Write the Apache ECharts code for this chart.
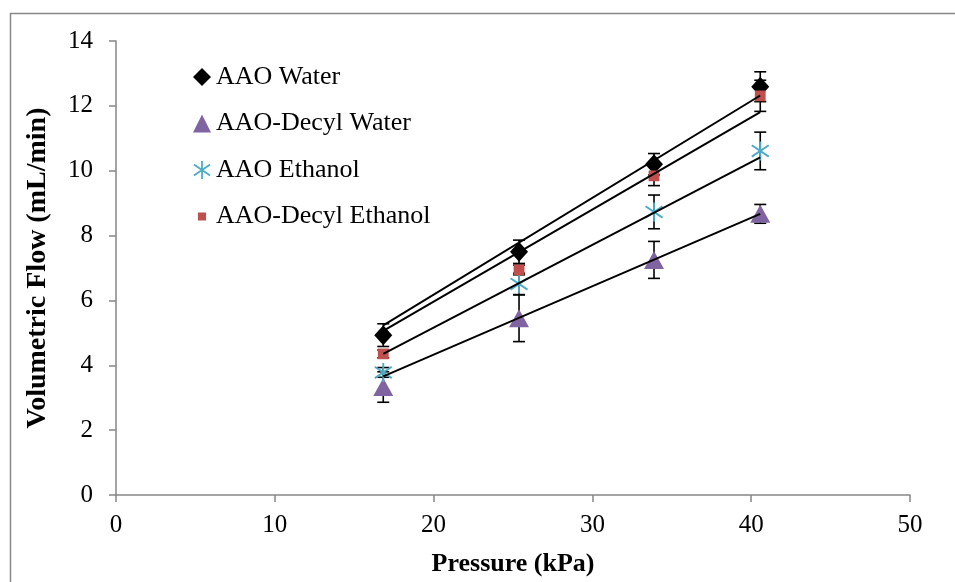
<!DOCTYPE html>
<html>
<head>
    <meta charset="utf-8">
    <title>Volumetric Flow vs Pressure</title>
    <script src="https://cdn.jsdelivr.net/npm/echarts@6/dist/echarts.min.js"></script>
    <style>
        html, body { margin: 0; padding: 0; background: #fff; }
        #main { width: 955px; height: 582px; }
    </style>
</head>
<body>
<div id="main"></div>
<script>
    // data
    var pressure = [16.83, 25.38, 33.88, 40.57];
    var aaoWater = [4.93, 7.50, 10.20, 12.59];
    var decylWater = [3.33, 5.45, 7.25, 8.67];
    var aaoEthanol = [3.78, 6.51, 8.73, 10.61];
    var decylEthanol = [4.35, 6.94, 9.84, 12.31];

    var aaoWaterErr = [0.35, 0.36, 0.33, 0.46];
    var decylWaterErr = [0.47, 0.72, 0.57, 0.29];
    var aaoEthanolErr = [0.15, 0.33, 0.52, 0.58];
    var decylEthanolErr = [0.12, 0.15, 0.30, 0.48];

    // trend line end points (as drawn)
    var trendX = [16.83, 40.57];
    var trendA = [5.23, 12.32];
    var trendB = [5.06, 11.81];
    var trendC = [4.35, 10.41];
    var trendD = [3.66, 8.67];

    var xTicks = [0, 10, 20, 30, 40, 50];
    var yTicks = [0, 2, 4, 6, 8, 10, 12, 14];

    var names = ['AAO Water', 'AAO-Decyl Water', 'AAO Ethanol', 'AAO-Decyl Ethanol'];
    var colors = ['#000000', '#8064A2', '#4BACC6', '#C0504D'];

    var asterisk = 'path://M9,0L11,0L11,20L9,20ZM1.555,3.168L19.555,15.168L18.445,16.832L0.445,4.832Z' +
        'M0.445,15.168L18.445,3.168L19.555,4.832L1.555,16.832Z';
    // small square padded inside a 20x20 box
    var smallSquare = 'path://M0,0L0.01,0L0,0.01ZM20,20L19.99,20L20,19.99ZM5.5,5.5L14.5,5.5L14.5,14.5L5.5,14.5Z';

    var serif = 'Liberation Serif';

    function pairs(xs, ys) {
        var out = [];
        for (var i = 0; i < xs.length; i++) out.push([xs[i], ys[i]]);
        return out;
    }
    function triples(xs, ys, es) {
        var out = [];
        for (var i = 0; i < xs.length; i++) out.push([xs[i], ys[i], es[i]]);
        return out;
    }

    function errorBar(params, api) {
        var x = api.value(0), y = api.value(1), e = api.value(2);
        var top = api.coord([x, y + e]);
        var bot = api.coord([x, y - e]);
        var half = 6;
        var st = { stroke: '#000', lineWidth: 1.6 };
        return {
            type: 'group',
            children: [
                { type: 'line', shape: { x1: top[0], y1: top[1], x2: bot[0], y2: bot[1] }, style: st },
                { type: 'line', shape: { x1: top[0] - half, y1: top[1], x2: top[0] + half, y2: top[1] }, style: st },
                { type: 'line', shape: { x1: bot[0] - half, y1: bot[1], x2: bot[0] + half, y2: bot[1] }, style: st }
            ]
        };
    }

    var chart = echarts.init(document.getElementById('main'));

    var series = [];
    var errSets = [
        triples(pressure, aaoWater, aaoWaterErr),
        triples(pressure, decylWater, decylWaterErr),
        triples(pressure, aaoEthanol, aaoEthanolErr),
        triples(pressure, decylEthanol, decylEthanolErr)
    ];
    errSets.forEach(function (d, i) {
        series.push({
            name: 'err' + i,
            type: 'custom',
            renderItem: errorBar,
            data: d,
            z: 1,
            silent: true
        });
    });

    series.push({
        name: names[0], type: 'scatter', symbol: 'diamond', symbolSize: [18, 20],
        itemStyle: { color: colors[0], opacity: 1 }, data: pairs(pressure, aaoWater), z: 2
    });
    series.push({
        name: names[1], type: 'scatter', symbol: 'triangle', symbolSize: [20, 18],
        itemStyle: { color: colors[1], opacity: 1 }, data: pairs(pressure, decylWater), z: 2
    });
    series.push({
        name: names[2], type: 'scatter', symbol: asterisk, symbolSize: [18, 19],
        itemStyle: { color: colors[2], opacity: 1 }, data: pairs(pressure, aaoEthanol), z: 2
    });
    series.push({
        name: names[3], type: 'scatter', symbol: smallSquare, symbolSize: 24,
        itemStyle: { color: colors[3], opacity: 1 }, data: pairs(pressure, decylEthanol), z: 2
    });

    [trendA, trendB, trendC, trendD].forEach(function (t, i) {
        series.push({
            name: 'trend' + i,
            type: 'line',
            data: pairs(trendX, t),
            showSymbol: false,
            symbol: 'none',
            lineStyle: { color: '#000', width: 2 },
            z: 3,
            silent: true
        });
    });

    var option = {
        animation: false,
        backgroundColor: '#fff',
        textStyle: { fontFamily: serif },
        grid: { left: 116, right: 45, top: 41, bottom: 83, containLabel: false },
        legend: {
            orient: 'vertical',
            left: 188,
            top: 59,
            itemWidth: 18,
            itemHeight: 18,
            itemGap: 20.5,
            selectedMode: false,
            textStyle: { fontFamily: serif, fontSize: 26, color: '#000', lineHeight: 26 },
            data: [
                { name: names[0], icon: 'diamond' },
                { name: names[1], icon: 'triangle' },
                { name: names[2], icon: asterisk },
                { name: names[3], icon: smallSquare }
            ]
        },
        xAxis: {
            type: 'value',
            min: xTicks[0],
            max: xTicks[xTicks.length - 1],
            interval: xTicks[1] - xTicks[0],
            name: 'Pressure (kPa)',
            nameLocation: 'middle',
            nameGap: 56,
            nameTextStyle: { fontFamily: serif, fontSize: 26, fontWeight: 'bold', color: '#000' },
            axisLine: { show: true, onZero: false, lineStyle: { color: '#868686', width: 1.5 } },
            axisTick: { show: true, inside: false, length: 7, lineStyle: { color: '#868686', width: 1.5 } },
            axisLabel: { fontFamily: serif, fontSize: 25, color: '#000', margin: 18 },
            splitLine: { show: false }
        },
        yAxis: {
            type: 'value',
            min: yTicks[0],
            max: yTicks[yTicks.length - 1],
            interval: yTicks[1] - yTicks[0],
            axisLine: { show: true, lineStyle: { color: '#868686', width: 1.5 } },
            axisTick: { show: true, inside: false, length: 7, lineStyle: { color: '#868686', width: 1.5 } },
            axisLabel: { fontFamily: serif, fontSize: 25, color: '#000', margin: 23 },
            splitLine: { show: false }
        },
        graphic: [
            {
                type: 'rect',
                left: 8, top: 11,
                shape: { width: 1000, height: 1000 },
                style: { fill: 'none', stroke: '#888888', lineWidth: 1.5 },
                silent: true
            },
            {
                type: 'text',
                x: 38, y: 268,
                rotation: Math.PI / 2,
                style: {
                    text: 'Volumetric Flow (mL/min)',
                    font: 'bold 28px "Liberation Serif"',
                    fill: '#000',
                    textAlign: 'center',
                    textVerticalAlign: 'middle'
                },
                silent: true
            }
        ],
        series: series
    };

    chart.setOption(option);
</script>
</body>
</html>
